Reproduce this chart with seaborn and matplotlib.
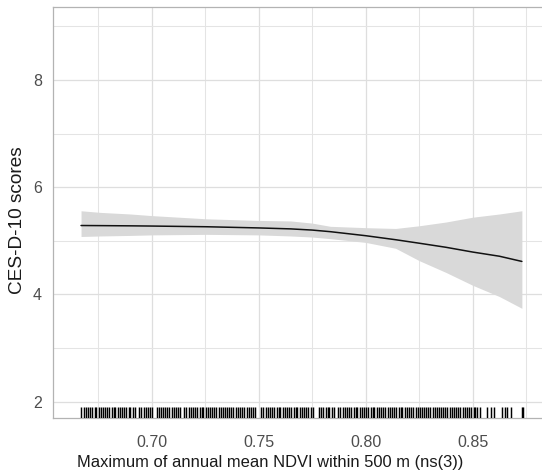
import matplotlib
matplotlib.use("Agg")
import matplotlib.pyplot as plt
from matplotlib.ticker import MultipleLocator
import numpy as np
import pandas as pd
import seaborn as sns

# Fitted natural-spline exposure-response curve with 95% confidence band
ndvi = [0.667, 0.676, 0.690, 0.700, 0.7256, 0.750, 0.765, 0.775, 0.7835,
        0.800, 0.814, 0.825, 0.8375, 0.850, 0.8625, 0.873]
fit = [5.285, 5.283, 5.279, 5.275, 5.262, 5.240, 5.222, 5.200, 5.170,
       5.095, 5.020, 4.955, 4.879, 4.790, 4.712, 4.615]
upper = [5.56, 5.53, 5.50, 5.47, 5.41, 5.38, 5.37, 5.33, 5.27,
         5.245, 5.23, 5.28, 5.35, 5.44, 5.50, 5.56]
lower = [5.08, 5.09, 5.10, 5.11, 5.12, 5.11, 5.09, 5.07, 5.04,
         4.97, 4.86, 4.63, 4.41, 4.17, 3.96, 3.74]

# Observed exposure values (rug)
rug_ndvi = [
    0.6672, 0.6683, 0.6691, 0.6702, 0.6714, 0.6722, 0.6733, 0.6741, 0.6752, 0.6764,
    0.6771, 0.6783, 0.6792, 0.6801, 0.6813, 0.6822, 0.6830, 0.6842, 0.6851, 0.6863,
    0.6871, 0.6880, 0.6892, 0.6901, 0.6912, 0.6921,
    0.6942, 0.6951, 0.6963, 0.6972, 0.6984, 0.6993, 0.7002,
    0.7024, 0.7033, 0.7045, 0.7054, 0.7062, 0.7074, 0.7083, 0.7095, 0.7104, 0.7112,
    0.7124, 0.7133,
    0.7153, 0.7162, 0.7174, 0.7183, 0.7191, 0.7203, 0.7212, 0.7224, 0.7233, 0.7241,
    0.7253, 0.7262, 0.7274, 0.7283, 0.7291, 0.7302, 0.7314, 0.7323, 0.7332, 0.7344,
    0.7353, 0.7361, 0.7373, 0.7382, 0.7394, 0.7403, 0.7411, 0.7423, 0.7432, 0.7444,
    0.7453, 0.7462, 0.7474, 0.7483,
    0.7512, 0.7521, 0.7533, 0.7542, 0.7551, 0.7563, 0.7572, 0.7584, 0.7593, 0.7601,
    0.7613, 0.7622, 0.7634, 0.7643, 0.7652, 0.7664, 0.7673, 0.7681, 0.7693, 0.7702,
    0.7714, 0.7723, 0.7732, 0.7744, 0.7753,
    0.7781, 0.7792, 0.7801, 0.7813, 0.7822, 0.7831, 0.7843, 0.7852,
    0.7872, 0.7881, 0.7893, 0.7902, 0.7911, 0.7923, 0.7932, 0.7944, 0.7953, 0.7961,
    0.7973, 0.7982, 0.7994, 0.8003, 0.8012, 0.8024, 0.8033, 0.8041, 0.8053, 0.8062,
    0.8074, 0.8083, 0.8092, 0.8104, 0.8113, 0.8121, 0.8133, 0.8142, 0.8154, 0.8163,
    0.8172, 0.8184, 0.8193, 0.8201, 0.8213, 0.8222, 0.8234, 0.8243, 0.8252, 0.8264,
    0.8273, 0.8281, 0.8293, 0.8302, 0.8314, 0.8323, 0.8332, 0.8344, 0.8353, 0.8361,
    0.8373, 0.8382, 0.8394, 0.8403, 0.8412, 0.8424, 0.8433, 0.8441, 0.8453, 0.8462,
    0.8474, 0.8483, 0.8492, 0.8504, 0.8513, 0.8521, 0.8533,
    0.8566, 0.8584, 0.8601, 0.8636, 0.8650, 0.8661, 0.8677, 0.8729, 0.8736,
]

x_ticks = [0.70, 0.75, 0.80, 0.85]
x_tick_labels = ["0.70", "0.75", "0.80", "0.85"]
y_ticks = [2, 4, 6, 8]
x_title = "Maximum of annual mean NDVI within 500 m (ns(3))"
y_title = "CES-D-10 scores"

sns.set_theme(style="white")
plt.rcParams["font.family"] = ["Liberation Sans", "DejaVu Sans"]

curve = pd.DataFrame({"ndvi": ndvi, "fit": fit, "lower": lower, "upper": upper})

fig = plt.figure(figsize=(5.42, 4.76), dpi=100)
ax = fig.add_axes([53 / 542, 1 - 418 / 476, 1 - 53 / 542, (418 - 7.3) / 476])

ax.fill_between(curve["ndvi"], curve["lower"], curve["upper"],
                color="#d9d9d9", linewidth=0, zorder=2)
sns.lineplot(data=curve, x="ndvi", y="fit", color="#111111", linewidth=1.1,
             ax=ax, zorder=3)
sns.rugplot(x=rug_ndvi, height=0.0275, color="black", linewidth=1.05,
            ax=ax, zorder=3)

ax.set_xlim(0.6539, 0.8824)
ax.set_ylim(1.694, 9.356)

ax.set_xticks(x_ticks)
ax.set_xticklabels(x_tick_labels)
ax.set_yticks(y_ticks)
ax.xaxis.set_minor_locator(MultipleLocator(0.025))
ax.yaxis.set_minor_locator(MultipleLocator(1))

ax.grid(True, which="major", color="#dedede", linewidth=0.9, zorder=0)
ax.grid(True, which="minor", color="#e4e4e4", linewidth=0.75, zorder=0)
ax.set_axisbelow(True)

for side in ("top", "left", "bottom"):
    ax.spines[side].set_color("#b3b3b3")
    ax.spines[side].set_linewidth(0.9)
ax.spines["right"].set_visible(False)

ax.tick_params(axis="both", which="major", length=3.6, width=0.8, color="#b3b3b3",
               labelcolor="#4d4d4d", labelsize=11.5)
ax.tick_params(axis="x", which="major", pad=8.5)
ax.tick_params(axis="y", which="major", pad=4.5)
ax.tick_params(axis="both", which="minor", length=0)

ax.set_xlabel(x_title, fontsize=11.9, color="#1a1a1a")
ax.xaxis.set_label_coords(0.445, -0.091)
ax.set_ylabel(y_title, fontsize=13.7, color="#1a1a1a")
ax.yaxis.set_label_coords(-0.0552, 0.482)

fig.savefig("out.png", dpi=100)
